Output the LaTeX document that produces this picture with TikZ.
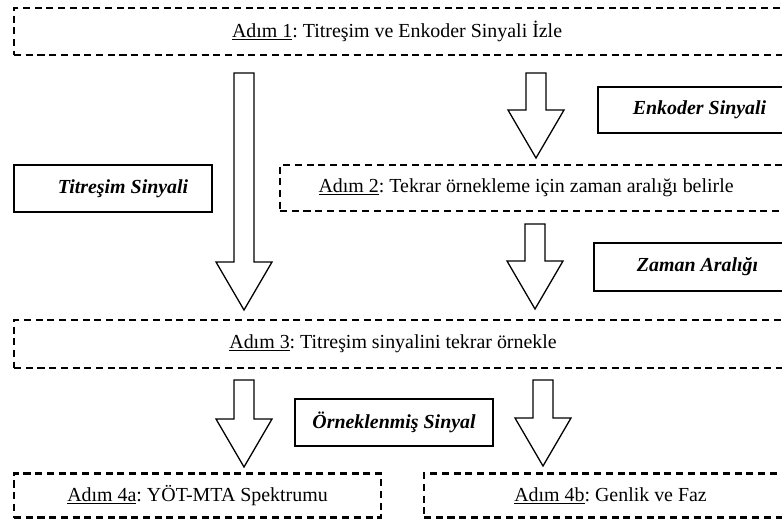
\documentclass[tikz,border=0pt]{standalone}
\usepackage{fontspec}
\setmainfont{Liberation Serif}
\usetikzlibrary{calc}
\frenchspacing

\newlength\px
\setlength\px{0.03cm}

\tikzset{
	stepbox/.style={draw, dash pattern=on 6pt off 4pt, line width=1.8pt, anchor=west, inner sep=0pt, font=\fontsize{17}{20}\selectfont},
	databox/.style={draw, line width=1.8pt, anchor=west, inner sep=0pt, font=\fontsize{17}{20}\selectfont\bfseries\itshape},
	bigarrow/.style={draw, line width=1.1pt, line join=miter, fill=white,
		to path={($(\tikztostart)+(-10,0)$) -- ($(\tikztotarget)+(-10,-48)$) -- ($(\tikztotarget)+(-28,-48)$) -- (\tikztotarget)
			-- ($(\tikztotarget)+(28,-48)$) -- ($(\tikztotarget)+(10,-48)$) -- ($(\tikztostart)+(10,0)$) -- cycle}}
}

\begin{document}
\begin{tikzpicture}[x=0.03cm, y=-0.03cm]
	\useasboundingbox (0,0) rectangle (782,519);
	\clip (0,0) rectangle (782,519);

	\node[stepbox, minimum width=787\px, minimum height=47\px] (adim1) at (13,31.5) {\underline{Adım 1}: Titreşim ve Enkoder Sinyali İzle\hspace*{21\px}};
	\node[databox, minimum width=203\px, minimum height=46\px] (enk) at (597,110) {Enkoder Sinyali};
	\node[databox, minimum width=198\px, minimum height=47\px] (tit) at (13,188.5) {\hspace*{20\px}Titreşim Sinyali};
	\node[stepbox, minimum width=521\px, minimum height=46\px] (adim2) at (279,188) {\underline{Adım 2}: Tekrar örnekleme için zaman aralığı belirle\hspace*{29\px}};
	\node[databox, minimum width=207\px, minimum height=48\px] (zaman) at (593,267) {Zaman Aralığı};
	\node[stepbox, minimum width=787\px, minimum height=48\px] (adim3) at (13,344) {\underline{Adım 3}: Titreşim sinyalini tekrar örnekle\hspace*{29\px}};
	\node[databox, minimum width=198\px, minimum height=47\px] (ornek) at (294,422.5) {Örneklenmiş Sinyal};
	\node[stepbox, minimum width=367\px, minimum height=44\px] (adim4a) at (13,495.5) {\underline{Adım 4a}: YÖT-MTA Spektrumu};
	\node[stepbox, minimum width=377\px, minimum height=44\px] (adim4b) at (423,495.5) {\underline{Adım 4b}: Genlik ve Faz\hspace*{4\px}};

	\coordinate (titTop) at (244,73);
	\coordinate (titTip) at (244,310);
	\coordinate (enkTop) at (536,73);
	\coordinate (enkTip) at (536,158);
	\coordinate (zamTop) at (535,224);
	\coordinate (zamTip) at (535,309);
	\coordinate (aTop) at (244,380);
	\coordinate (aTip) at (244,467);
	\coordinate (bTop) at (543,380);
	\coordinate (bTip) at (543,466);

	\draw[bigarrow] (titTop) to (titTip);
	\draw[bigarrow] (enkTop) to (enkTip);
	\draw[bigarrow] (zamTop) to (zamTip);
	\draw[bigarrow] (aTop) to (aTip);
	\draw[bigarrow] (bTop) to (bTip);
\end{tikzpicture}
\end{document}
